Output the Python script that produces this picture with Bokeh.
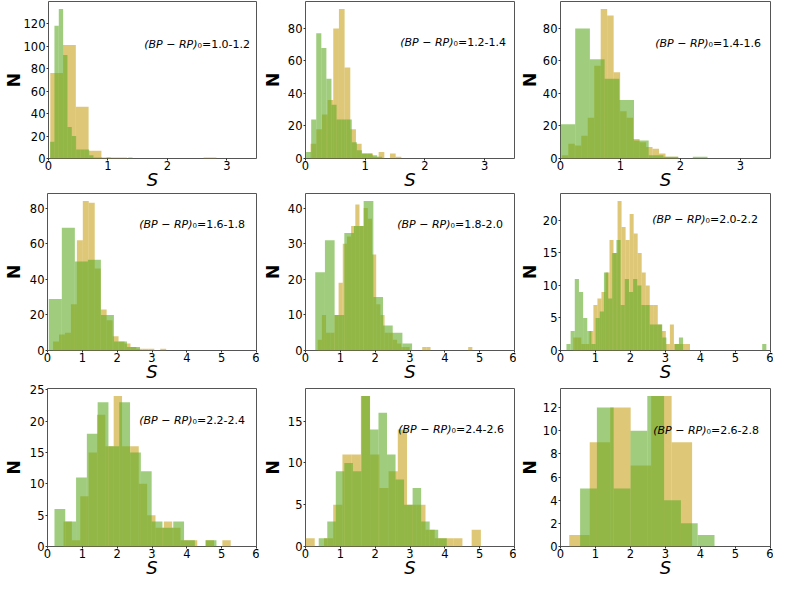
import numpy as np
from bokeh.plotting import figure
from bokeh.models import Range1d, FixedTicker, Label
from bokeh.layouts import column, row
from bokeh.embed import file_html
from bokeh.resources import INLINE

# ---------------- data ----------------
color_bins = ["1.0-1.2", "1.2-1.4", "1.4-1.6",
              "1.6-1.8", "1.8-2.0", "2.0-2.2",
              "2.2-2.4", "2.4-2.6", "2.6-2.8"]

# gold histograms: first bin edge, bin width, counts
gold_start = [0.03, 0.085, 0.022, 0.159, 0.35, 0.365, 0.46, 0.0, 0.25]
gold_width = [0.215, 0.095, 0.108, 0.171, 0.12, 0.115, 0.24, 0.265, 0.585]
gold_1 = [76, 101, 46, 7, 1, 1, 0, 0, 0, 0, 0, 0, 1]
gold_2 = [9, 18, 27, 36, 80, 92, 56, 18, 9, 3, 3, 1, 4, 0, 3, 1]
gold_3 = [2, 9, 8, 14, 25, 57, 92, 88, 53, 29, 25, 12, 10, 7, 6, 3, 1, 1]
gold_4 = [5, 9, 10, 26, 62, 84, 83, 46, 23, 17, 8, 5, 4, 2, 1, 1, 1, 0, 1]
gold_5 = [3, 10, 5, 5, 10, 19, 30, 32, 35, 41, 35, 40, 37, 27, 13, 10, 5, 5, 3, 2,
          1, 1, 0, 0, 0, 1, 1, 0, 0, 0, 0, 0, 0, 0, 0, 0, 1]
gold_6 = [2, 2, 1, 1, 3, 7, 8, 9, 12, 17, 15, 23, 19, 17, 21, 18, 15, 12, 10, 7,
          7, 4, 3, 1, 4, 1, 1, 1, 1]
gold_7 = [4, 1, 8, 15, 21, 16, 24, 16, 16, 10, 5, 3, 4, 3, 1, 1, 0, 1, 0, 1]
gold_8 = [1, 0, 1, 5, 11, 11, 18, 11, 7, 9, 14, 5, 5, 2, 1, 1, 1, 0, 2]
gold_9 = [1, 9, 12, 7, 13, 9]

# green histograms: first bin edge, bin width, counts
green_start = [0.027, 0.01, 0.0, 0.037, 0.28, 0.17, 0.2, 0.38, 0.56]
green_width = [0.073, 0.085, 0.245, 0.374, 0.278, 0.119, 0.31, 0.245, 0.48]
green_1 = [15, 118, 133, 92, 28, 20, 8, 8, 8, 3, 1, 1, 0, 1, 0, 0, 0, 0, 1]
green_2 = [4, 24, 77, 68, 49, 33, 24, 24, 24, 10, 5, 3, 3, 2, 1]
green_3 = [21, 80, 61, 49, 36, 11, 2, 1, 0, 1]
green_4 = [29, 69, 50, 51, 20, 5, 2]
green_5 = [22, 31, 10, 33, 35, 42, 15, 7, 5, 2]
green_6 = [1, 3, 11, 9, 5, 3, 1, 5, 6, 12, 8, 15, 17, 7, 11, 9, 11, 10, 7, 7,
           4, 4, 4, 2, 0, 0, 1, 2, 0, 0, 0, 0, 0, 0, 0, 0, 0, 0, 0, 0,
           0, 0, 0, 0, 0, 0, 0, 1]
green_7 = [6, 4, 11, 18, 23, 16, 23, 15, 12, 4, 3, 4, 1, 0, 1]
green_8 = [1, 3, 9, 10, 9, 18, 14, 16, 11, 8, 5, 7, 3, 2, 1]
green_9 = [5, 12, 5, 10, 13, 4, 2, 1]

gold_counts = [gold_1, gold_2, gold_3, gold_4, gold_5, gold_6, gold_7, gold_8, gold_9]
green_counts = [green_1, green_2, green_3, green_4, green_5, green_6, green_7, green_8, green_9]

x_max = [3.5, 3.5, 3.5, 6, 6, 6, 6, 6, 6]
x_ticks_short = [0, 1, 2, 3]
x_ticks_long = [0, 1, 2, 3, 4, 5, 6]
y_ticks = [[0, 20, 40, 60, 80, 100, 120], [0, 20, 40, 60, 80], [0, 20, 40, 60, 80],
           [0, 20, 40, 60, 80], [0, 10, 20, 30, 40], [0, 5, 10, 15, 20],
           [0, 5, 10, 15, 20, 25], [0, 5, 10, 15], [0, 2, 4, 6, 8, 10, 12]]

# ---------------- style / layout ----------------
GOLD = "#C8A31E"
GREEN = "#61AC26"
ALPHA = 0.6
FONT = "DejaVu Sans"

col_borders = [(42, 214, 3), (40, 215, 2), (40, 214, 3)]   # left, frame, right
row_borders = [(1, 159, 32), (1, 159, 32), (4, 159, 33)]   # top, frame, bottom

label_off_top = [46, 44, 45, 34, 34, 29, 34, 43, 44]   # baseline below frame top (ref px of 162)
label_left = [94, 93, 93, 90, 90, 90, 90, 91, 91]
n_standoff = [-3, 2, 0, 3, 2, 0, 3, 2, 0]

figs = []
for i in range(9):
    r, c = divmod(i, 3)
    bl, fw, br = col_borders[c]
    bt, fh, bb = row_borders[r]
    g = np.array(gold_counts[i], dtype=float)
    gr = np.array(green_counts[i], dtype=float)
    ymax = 1.05 * max(g.max(), gr.max())
    p = figure(width=bl + fw + br, height=bt + fh + bb,
               x_range=Range1d(0, x_max[i]), y_range=Range1d(0, ymax),
               output_backend="svg", toolbar_location=None,
               min_border_left=bl, min_border_right=br,
               min_border_top=bt, min_border_bottom=bb)
    p.background_fill_color = "white"
    p.border_fill_color = "white"
    p.outline_line_color = "#555555"
    p.outline_line_width = 1
    p.xgrid.visible = False
    p.ygrid.visible = False

    ge = gold_start[i] + gold_width[i] * np.arange(len(g) + 1)
    p.quad(left=ge[:-1], right=ge[1:], bottom=0, top=g,
           fill_color=GOLD, fill_alpha=ALPHA, line_color=None)
    gre = green_start[i] + green_width[i] * np.arange(len(gr) + 1)
    p.quad(left=gre[:-1], right=gre[1:], bottom=0, top=gr,
           fill_color=GREEN, fill_alpha=ALPHA, line_color=None)

    p.xaxis.ticker = FixedTicker(ticks=x_ticks_short if r == 0 else x_ticks_long)
    p.yaxis.ticker = FixedTicker(ticks=y_ticks[i])
    for ax in (p.xaxis, p.yaxis):
        ax.axis_line_color = None
        ax.major_tick_line_color = "#333333"
        ax.major_tick_in = 0
        ax.major_tick_out = 2
        ax.minor_tick_line_color = None
        ax.major_label_text_font = FONT
        ax.major_label_text_font_size = "11.5px"
        ax.major_label_text_color = "black"
        ax.axis_label_text_font = FONT
        ax.axis_label_text_color = "black"
    p.xaxis.major_label_standoff = 0
    p.yaxis.major_label_standoff = 1

    # axis titles
    p.xaxis.axis_label = "S"
    p.xaxis.axis_label_text_font_style = "italic"
    p.xaxis.axis_label_text_font_size = "18px"
    p.xaxis.axis_label_standoff = -4
    p.yaxis.axis_label = "N"
    p.yaxis.axis_label_text_font_style = "bold"
    p.yaxis.axis_label_text_font_size = "17px"
    p.yaxis.axis_label_standoff = n_standoff[i]

    # panel annotation
    ybase = fh - label_off_top[i] * fh / 162.0
    xs = label_left[i] + 55
    p.add_layout(Label(x=xs, y=ybase, x_units="screen", y_units="screen",
                       text="(BP \u2212 RP)", text_align="right",
                       text_baseline="alphabetic", text_font=FONT,
                       text_font_style="italic", text_font_size="11px",
                       text_color="black"))
    p.add_layout(Label(x=xs, y=ybase, x_units="screen", y_units="screen",
                       text="\u2080=" + color_bins[i], text_align="left",
                       text_baseline="alphabetic", text_font=FONT,
                       text_font_size="11px", text_color="black"))
    figs.append(p)

layout = column(row(figs[0], figs[1], figs[2]),
                row(figs[3], figs[4], figs[5]),
                row(figs[6], figs[7], figs[8]))

open("out.html", "w").write(file_html(layout, INLINE))
